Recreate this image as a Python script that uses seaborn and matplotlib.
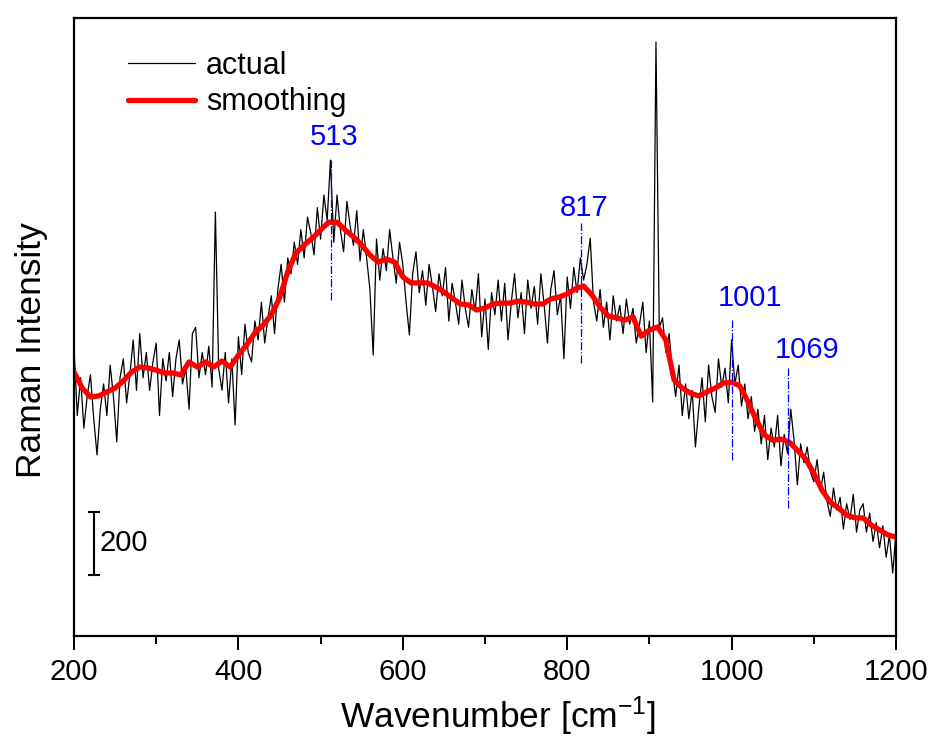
"""Raman spectrum: raw signal vs smoothed curve"""
import numpy as np
import pandas as pd
import matplotlib
matplotlib.use('Agg')
import matplotlib.pyplot as plt
import seaborn as sns

sns.set_theme(style="ticks")
plt.rcParams['font.family'] = ['Liberation Sans', 'DejaVu Sans']
plt.rcParams['mathtext.fontset'] = 'custom'
plt.rcParams['mathtext.rm'] = 'Liberation Sans'
plt.rcParams['mathtext.it'] = 'Liberation Sans:italic'
plt.rcParams['text.color'] = 'black'
plt.rcParams['axes.labelcolor'] = 'black'
plt.rcParams['xtick.color'] = 'black'

# ---- data ----
# raw spectrum, every 4 cm-1 from 200 to 1200
raw_wn = np.arange(200, 1201, 4)
raw_int = [
    914, 700, 820, 660, 760, 830, 690, 575, 720, 800,
    700, 860, 760, 616, 820, 880, 740, 830, 940, 780,
    960, 820, 900, 780, 870, 930, 700, 880, 810, 900,
    760, 880, 940, 800, 850, 720, 960, 980, 820, 900,
    830, 920, 790, 1346, 850, 780, 900, 740, 880, 670,
    950, 830, 990, 900, 870, 1000, 940, 1060, 930, 1010,
    1080, 960, 1100, 1180, 1060, 1200, 1150, 1250, 1180, 1290,
    1200, 1330, 1280, 1210, 1360, 1260, 1400, 1320, 1511, 1250,
    1400, 1290, 1220, 1380, 1300, 1240, 1350, 1190, 1290, 1200,
    1100, 892, 1260, 1130, 1230, 1160, 1290, 1200, 1120, 1250,
    1180, 1060, 956, 1150, 1220, 1090, 1160, 1050, 1180, 1110,
    1030, 1150, 1080, 1170, 1000, 1120, 1060, 990, 1130, 1040,
    980, 1100, 1030, 1150, 950, 1070, 910, 1090, 1020, 1130,
    1000, 1120, 940, 1060, 1150, 1010, 1090, 960, 1130, 1040,
    1110, 990, 1150, 1050, 930, 1100, 1160, 1020, 1080, 880,
    1140, 1040, 1170, 1090, 1200, 1130, 1180, 1263, 1060, 1000,
    1100, 980, 1060, 940, 1080, 1000, 1050, 960, 1070, 990,
    1040, 930, 990, 1060, 900, 1000, 743, 1886, 980, 1010,
    900, 960, 840, 760, 860, 700, 800, 690, 780, 600,
    720, 820, 680, 860, 760, 710, 880, 790, 850, 740,
    940, 800, 860, 730, 800, 690, 760, 650, 720, 610,
    700, 560, 660, 600, 700, 540, 640, 580, 720, 620,
    480, 610, 550, 600, 520, 490, 560, 460, 520, 430,
    380, 470, 400, 440, 340, 420, 370, 450, 330, 400,
    420, 330, 390, 300, 360, 280, 350, 250, 320, 200,
    330,
]

# smoothed curve, every 10 cm-1
smooth_wn = np.arange(200, 1201, 10)
smooth_int = [
    838, 787, 759, 762, 775, 787, 810, 838, 854, 851,
    844, 835, 835, 829, 870, 854, 870, 854, 873, 854,
    892, 924, 962, 987, 1019, 1073, 1156, 1216, 1241, 1263,
    1289, 1314, 1314, 1289, 1267, 1241, 1210, 1187, 1197, 1187,
    1140, 1121, 1121, 1121, 1108, 1092, 1073, 1054, 1051, 1035,
    1041, 1054, 1057, 1057, 1063, 1060, 1054, 1054, 1070, 1076,
    1086, 1102, 1111, 1083, 1044, 1016, 1010, 1003, 1013, 952,
    971, 981, 940, 813, 787, 771, 762, 775, 787, 803,
    806, 794, 743, 686, 638, 622, 625, 616, 590, 562,
    517, 463, 425, 406, 384, 375, 375, 352, 337, 321,
    314,
]

# marked peaks
peak_pos = [513, 817, 1001, 1069]
peak_lo = [1067, 867, 559, 406]
peak_hi = [1511, 1311, 1003, 851]
peak_label_x = [517, 820, 1022, 1092]
peak_label_y = [1584, 1359, 1073, 908]

raw_df = pd.DataFrame({'wn': raw_wn, 'intensity': raw_int})
smooth_df = pd.DataFrame({'wn': smooth_wn, 'intensity': smooth_int})

# ---- figure ----
fig = plt.figure(figsize=(9.36, 7.42), dpi=100)
ax = fig.add_axes([74 / 936, 1 - 636 / 742, 822 / 936, 618 / 742])

sns.lineplot(data=raw_df, x='wn', y='intensity', ax=ax, color='black',
             linewidth=0.9, estimator=None, label='actual')
sns.lineplot(data=smooth_df, x='wn', y='intensity', ax=ax, color='#ff0000',
             linewidth=3.8, estimator=None, label='smoothing')

for pos, lo, hi, lx, ly in zip(peak_pos, peak_lo, peak_hi, peak_label_x, peak_label_y):
    ax.plot([pos, pos], [lo, hi], color='blue', linestyle='-.', linewidth=0.9)
    ax.text(lx, ly, str(pos), color='blue', fontsize=21, ha='center', va='center')

# 200-count scale bar
ax.errorbar([224], [294], yerr=[100], color='black', capsize=4, elinewidth=1.5,
            capthick=1.5)
ax.text(231, 294, '200', fontsize=21, ha='left', va='center')

ax.set_xlim(200, 1200)
ax.set_ylim(0, 1962)
ax.set_xticks(range(200, 1201, 200))
ax.set_xticks(range(300, 1200, 200), minor=True)
ax.set_yticks([])
ax.tick_params(axis='x', which='major', direction='out', length=10, width=1.4,
               labelsize=21, pad=6)
ax.tick_params(axis='x', which='minor', direction='out', length=6, width=1.4)
for sp in ax.spines.values():
    sp.set_linewidth(1.6)
    sp.set_color('black')

ax.set_xlabel('Wavenumber [cm$^{-1}$]', fontsize=25.5)
ax.set_ylabel('Raman Intensity', fontsize=25.5)
ax.xaxis.set_label_coords((498 - 74) / 822, (636 - 695) / 618)
ax.yaxis.set_label_coords((48 - 74) / 822, (636 - 350) / 618)

ax.legend(loc='upper left', bbox_to_anchor=(54 / 822, 0.947), frameon=False,
          fontsize=22, borderpad=0, borderaxespad=0, handlelength=2.2,
          handletextpad=0.35, labelspacing=0.22)

fig.savefig('out.png', dpi=100, facecolor='white')
print("saved")
